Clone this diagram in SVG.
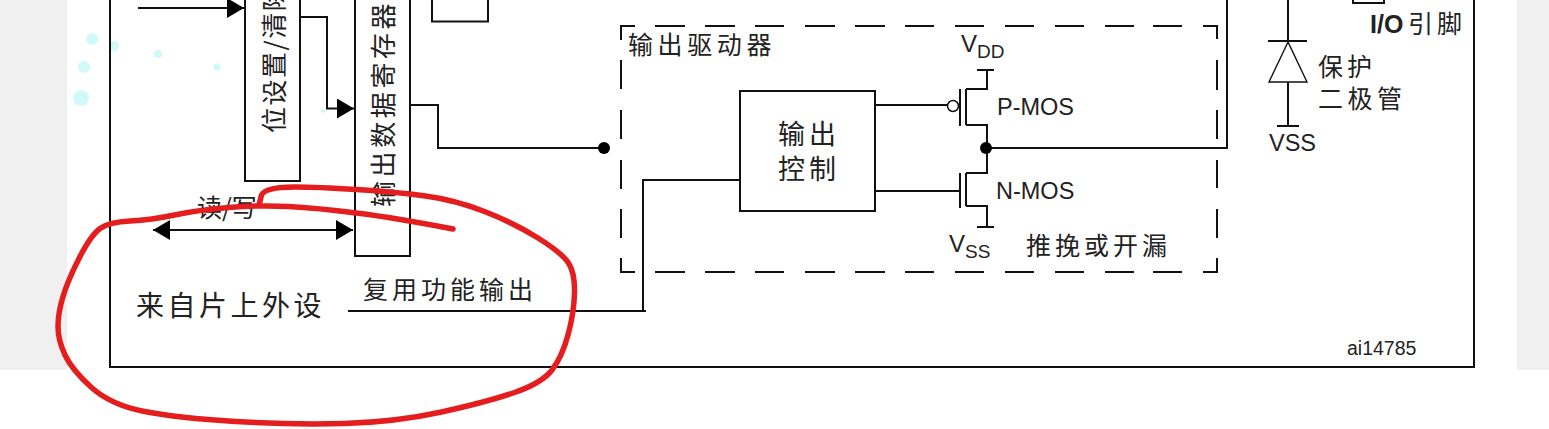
<svg xmlns="http://www.w3.org/2000/svg" width="1549" height="429" viewBox="0 0 1549 429">
<style>
.l{fill:none;stroke:#111;stroke-width:2}
.b{fill:#fff;stroke:#111;stroke-width:2}
.d{fill:none;stroke:#111;stroke-width:2}
.c{font-family:"Noto Sans CJK SC","Noto Sans",sans-serif;fill:#222;font-weight:400}
.a{font-family:"Liberation Sans",Arial,sans-serif;fill:#222}
.s{fill:#bff6f6;opacity:.7}
</style>
<defs>
<marker id="ah" viewBox="0 0 17 20" refX="17" refY="10" markerWidth="17" markerHeight="20" markerUnits="userSpaceOnUse" orient="auto-start-reverse"><path d="M0 0L17 10L0 20Z" fill="#000"/></marker>
</defs>
<rect width="1549" height="429" fill="#fff"/>
<rect x="0" y="0" width="67" height="370" fill="#f0f0f0"/>
<rect x="1517" y="0" width="32" height="370" fill="#f0f0f0"/>
<g id="sparkles">
<circle class="s" cx="92" cy="39" r="6"/><circle class="s" cx="114" cy="46" r="5"/><circle class="s" cx="158" cy="54" r="4"/><circle class="s" cx="217" cy="67" r="3.5"/><circle class="s" cx="84" cy="67" r="6"/><circle class="s" cx="81" cy="98" r="8"/><circle class="s" cx="271" cy="82" r="3"/><circle class="s" cx="323" cy="111" r="2"/>
</g>
<g id="frame"><path class="l" d="M110 -2V367H1474V-2"/></g>
<g id="connectors">
<path class="l" d="M138 8H244" marker-end="url(#ah)"/>
<path class="l" d="M300 17H327V108.500H354" marker-end="url(#ah)"/>
<path class="l" d="M153 230H353" marker-start="url(#ah)" marker-end="url(#ah)"/>
<path class="l" d="M410 105H438V148H604"/>
<circle cx="604" cy="148" r="6" fill="#000"/>
<path class="l" d="M740 180H643V311"/>
<path class="l" d="M348 311H646"/>
<path class="l" d="M876 105H947"/>
<path class="l" d="M876 191H960"/>
<path class="l" d="M986 148H1228"/>
<path class="l" d="M1227 -2V148"/>
</g>
<g id="setclear">
<rect class="b" x="245" y="-5" width="55" height="186"/>
<text class="c" transform="translate(284 133) rotate(-90)" font-size="26" letter-spacing="1.500">位设置/清除</text>
</g>
<g id="odr">
<rect class="b" x="355" y="-5" width="55" height="261"/>
<text class="c" transform="translate(393 207) rotate(-90)" font-size="26" letter-spacing="3.600">输出数据寄存器</text>
</g>
<g id="smallbox"><rect class="b" x="432" y="-5" width="56" height="26.500"/></g>
<g id="driver">
<path class="d" d="M635 26H621V40M621 60V89M621 110V139M621 160V189M621 209V238M621 258V272H635M655 26H685M705 26H735M755 26H784M805 26H835M855 26H885M905 26H934M955 26H984M1005 26H1034M1055 26H1084M1105 26H1134M1153 26H1182M1203 26H1217V39M1217 60V90M1217 110V139M1217 160V188M1217 209V238M1217 258V272H1203M655 272H685M705 272H735M755 272H784M805 272H835M855 272H885M905 272H934M955 272H984M1005 272H1034M1055 272H1084M1105 272H1134M1153 272H1182"/>
<text class="c" x="628" y="54" font-size="25" letter-spacing="4.600">输出驱动器</text>
<text class="c" x="1026" y="255" font-size="25" letter-spacing="4">推挽或开漏</text>
</g>
<g id="control">
<rect class="b" x="740" y="91" width="135" height="120"/>
<text class="c" x="778" y="144" font-size="27" letter-spacing="4">输出</text>
<text class="c" x="778" y="179" font-size="27" letter-spacing="4">控制</text>
</g>
<g id="pmos">
<circle cx="953" cy="106" r="5.500" fill="#fff" stroke="#111" stroke-width="1.500"/>
<path class="l" d="M960 89V126M966 89V125M966 89H987V70M977 70H994M966 125H987V148"/>
<text class="a" x="997" y="115" font-size="23.500">P-MOS</text>
<text class="a" x="961" y="52" font-size="24">V</text>
<text class="a" x="977" y="58" font-size="19">DD</text>
</g>
<g id="nmos">
<path class="l" d="M960 173V208M966 173V206M987 148V173H966M966 206H987V227M977 227H994"/>
<circle cx="986" cy="148" r="6" fill="#000"/>
<text class="a" x="996" y="199" font-size="23.500">N-MOS</text>
<text class="a" x="949" y="252" font-size="24">V</text>
<text class="a" x="965" y="258" font-size="19">SS</text>
</g>
<g id="diode">
<path class="l" d="M1288 -2V41M1268 41H1307M1288 82V126M1277 126H1299"/>
<path d="M1288 42L1269 82H1307Z" fill="none" stroke="#111" stroke-width="1.400"/>
<text class="a" x="1269" y="151" font-size="23.500">VSS</text>
<text class="c" x="1318" y="76" font-size="25" letter-spacing="4">保护</text>
<text class="c" x="1318" y="108" font-size="25" letter-spacing="4.500">二极管</text>
</g>
<g id="iopin">
<rect class="b" x="1353" y="-5" width="31" height="8"/>
<text class="a" x="1370" y="33" font-size="25" font-weight="700">I/O</text><text class="c" x="1408" y="33" font-size="25" letter-spacing="4">引脚</text>
</g>
<g id="labels">
<text class="c" x="197" y="217" font-size="25">读/写</text>
<text class="c" x="136" y="316" font-size="28" letter-spacing="3.500">来自片上外设</text>
<text class="c" x="363" y="299" font-size="25" letter-spacing="4">复用功能输出</text>
<text class="a" x="1347" y="355" font-size="19.500">ai14785</text>
</g>
<path id="annotation" fill="none" stroke="#e41e1e" stroke-width="5.500" stroke-linecap="round" stroke-linejoin="round" d="M453 229Q396 218 356.500 213Q317 208 288 206.500Q259 205 228.500 207.500Q198 210 174.500 215Q151 220 130 221Q109 222 100 228.500Q91 235 79.500 257.500Q68 280 63 296.500Q58 313 58 326.500Q58 340 65 355Q72 370 91.500 387.500Q111 405 144.500 411.500Q178 418 235.500 421.500Q293 425 344.500 423.500Q396 422 441.500 412Q487 402 514.500 392.500Q542 383 552 370Q562 357 568 335Q574 313 574.500 293Q575 273 568.500 263Q562 253 538 238Q514 223 484.500 211.500Q455 200 425.500 196Q396 192 356.500 189.500Q317 187 295 187Q262 187 261 197L259 205"/>
</svg>
